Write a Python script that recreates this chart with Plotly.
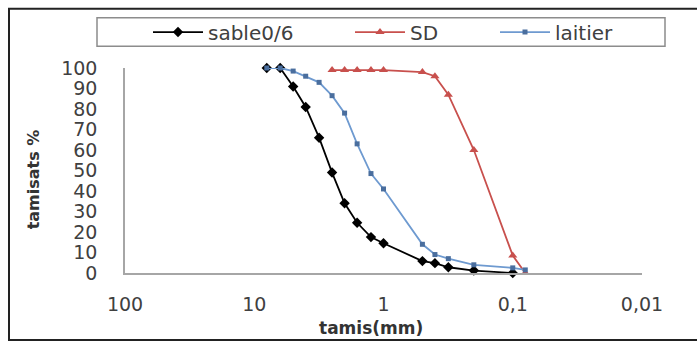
import plotly.graph_objects as go

# --- data ---
tamis_sable = [8, 6.3, 5, 4, 3.15, 2.5, 2, 1.6, 1.25, 1, 0.5, 0.4, 0.315, 0.2, 0.1]
pass_sable = [100, 100, 91, 81, 66, 49, 34, 24.5, 17.5, 14.5, 5.8, 4.8, 2.8, 1.2, 0]

tamis_sd = [2.5, 2, 1.6, 1.25, 1, 0.5, 0.4, 0.315, 0.2, 0.1, 0.08]
pass_sd = [99, 99, 99, 99, 99, 98, 96, 87, 60, 8.5, 0]

tamis_lait = [8, 6.3, 5, 4, 3.15, 2.5, 2, 1.6, 1.25, 1, 0.5, 0.4, 0.315, 0.2, 0.1, 0.08]
pass_lait = [100, 100, 98.5, 96, 93, 86.5, 78, 63, 48.5, 41, 14, 9, 7, 4, 2.5, 1.5]

series_names = ["sable0/6", "SD", "laitier"]
x_tickvals = [100, 10, 1, 0.1, 0.01]
x_ticktext = ["100", "10", "1", "0,1", "0,01"]
y_tickvals = list(range(0, 101, 10))

# --- layout geometry (px) ---
W, H = 697, 343
L, R, T, B = 125, 642, 65, 273  # plot area in px
pw, ph = R - L, B - T


def px_x(x):
    return (x - L) / pw


def px_y(y):
    return (B - y) / ph


fig = go.Figure()
fig.add_trace(go.Scatter(
    x=tamis_sable, y=pass_sable, name=series_names[0], mode="lines+markers",
    line=dict(color="#000000", width=1.8),
    marker=dict(symbol="diamond", size=8, color="#000000"),
    cliponaxis=False, legendwidth=137,
))
fig.add_trace(go.Scatter(
    x=tamis_sd, y=pass_sd, name=series_names[1], mode="lines+markers",
    line=dict(color="#C8504D", width=1.8),
    marker=dict(symbol="triangle-up", size=8, color="#C8504D"),
    cliponaxis=False, legendwidth=80,
))
fig.add_trace(go.Scatter(
    x=tamis_lait, y=pass_lait, name=series_names[2], mode="lines+markers",
    line=dict(color="#6E9AD0", width=1.8),
    marker=dict(symbol="square", size=5, color="#4A6E9E"),
    cliponaxis=False,
))

font_family = "DejaVu Sans"

fig.update_layout(
    width=W, height=H,
    margin=dict(l=L, r=W - R, t=T, b=H - B, pad=0),
    paper_bgcolor="white", plot_bgcolor="white",
    font=dict(family=font_family, size=20, color="#404040"),
    showlegend=True,
    legend=dict(
        orientation="h", x=px_x(148), xanchor="left", y=px_y(28.5), yanchor="middle",
        bgcolor="rgba(0,0,0,0)", borderwidth=0, itemwidth=50,
        font=dict(family=font_family, size=20, color="#404040"),
    ),
    xaxis=dict(
        type="log", range=[2, -2], tickvals=x_tickvals, ticktext=x_ticktext,
        showgrid=False, zeroline=False, showline=True, linecolor="#A6A6A6", linewidth=1.5,
        ticks="", ticklabelstandoff=13,
        tickfont=dict(family=font_family, size=19, color="#404040"),
    ),
    yaxis=dict(
        range=[0, 100], tickvals=y_tickvals,
        showgrid=False, zeroline=False, showline=True, linecolor="#A6A6A6", linewidth=1.5,
        ticks="", ticklabelstandoff=22,
        tickfont=dict(family=font_family, size=19, color="#404040"),
    ),
    shapes=[
        # outer frame
        dict(type="rect", xref="paper", yref="paper",
             x0=px_x(9), x1=px_x(702), y0=px_y(341), y1=px_y(5),
             line=dict(color="#222222", width=2), layer="below"),
        # legend box
        dict(type="rect", xref="paper", yref="paper",
             x0=px_x(97), x1=px_x(665), y0=px_y(43), y1=px_y(14),
             line=dict(color="#8C8C8C", width=1.5), layer="below"),
    ],
    annotations=[
        dict(text="<b>tamis(mm)</b>", xref="paper", yref="paper",
             x=px_x(371), y=px_y(329), xanchor="center", yanchor="middle",
             showarrow=False, font=dict(family=font_family, size=17, color="#333333")),
        dict(text="<b>tamisats %</b>", xref="paper", yref="paper",
             x=px_x(33), y=px_y(178), xanchor="center", yanchor="middle",
             textangle=-90, showarrow=False,
             font=dict(family=font_family, size=16, color="#333333")),
    ],
)

fig.write_html("out.html")
